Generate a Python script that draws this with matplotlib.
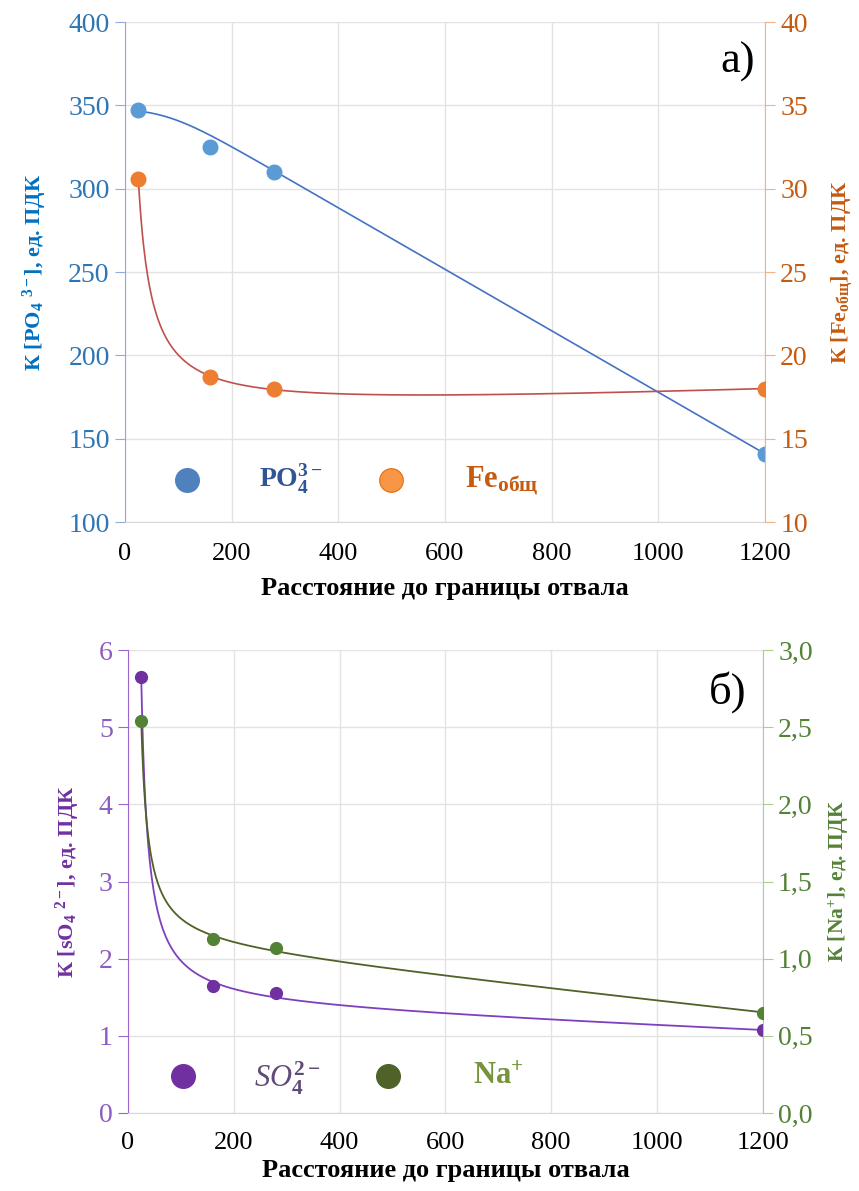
import numpy as np
import matplotlib
matplotlib.use("Agg")
import matplotlib.pyplot as plt

plt.rcParams['font.family'] = ['Liberation Serif', 'DejaVu Serif']
plt.rcParams['mathtext.fontset'] = 'custom'
plt.rcParams['mathtext.rm'] = 'Liberation Serif'
plt.rcParams['mathtext.it'] = 'Liberation Serif:italic'
plt.rcParams['mathtext.bf'] = 'Liberation Serif:bold'

# ---------- data ----------
dist = [25, 160, 280, 1200]
po4 = [347, 325, 310, 141]
fe = [30.6, 18.7, 18.0, 18.0]
so4 = [5.65, 1.65, 1.55, 1.07]
na = [2.54, 1.13, 1.07, 0.65]

x_ticks = [0, 200, 400, 600, 800, 1000, 1200]
po4_ticks = [100, 150, 200, 250, 300, 350, 400]
fe_ticks = [10, 15, 20, 25, 30, 35, 40]
so4_ticks = [0, 1, 2, 3, 4, 5, 6]
na_ticks = [0.0, 0.5, 1.0, 1.5, 2.0, 2.5, 3.0]


# trend lines (weighted least squares on fixed basis functions)
def lsq_fit(x, y, basis, w=None):
    x = np.asarray(x, float)
    y = np.asarray(y, float)
    w = np.ones_like(x) if w is None else np.sqrt(np.asarray(w, float))
    A = np.column_stack([f(x) for f in basis])
    coef, *_ = np.linalg.lstsq(A * w[:, None], y * w, rcond=None)
    return lambda t: sum(c * f(t) for c, f in zip(coef, basis))


def hyper_fit(x, y, x0):
    return lsq_fit(x, y, [np.ones_like, lambda t: 1.0 / (t - x0), lambda t: t])


def knee_fit(x, y, x0, s, w):
    return lsq_fit(x, y, [np.ones_like, lambda t: s * np.log1p(np.exp((t - x0) / s))], w)


xs = np.linspace(dist[0], dist[-1], 600)
po4_fit = knee_fit(dist, po4, 75, 40, [20, 1, 1, 20])
fe_fit = hyper_fit(dist, fe, 0)
so4_fit = hyper_fit(dist, so4, 12)
na_fit = hyper_fit(dist, na, 12)

fig = plt.figure(figsize=(8.59, 11.91), dpi=100)

YT_FS = 20
XT_FS = 19
LAB_FS = 16
XLAB_FS = 19


def style_axes(ax, ax2, lcol, lspine, rcol, rspine):
    ax.set_xlim(0, 1200)
    ax.set_xticks(x_ticks)
    ax.tick_params(axis='x', length=0, labelsize=XT_FS, pad=15, colors='black')
    ax.tick_params(axis='y', length=7, labelsize=YT_FS, colors=lspine, labelcolor=lcol, pad=4)
    ax2.tick_params(axis='y', length=7, labelsize=YT_FS, colors=rspine, labelcolor=rcol, pad=4)
    ax.grid(True, color='#e3e3e3', linewidth=1)
    ax.set_axisbelow(True)
    for s in ['top', 'right']:
        ax.spines[s].set_visible(False)
    for s in ['top', 'left', 'bottom']:
        ax2.spines[s].set_visible(False)
    ax.spines['left'].set_color(lspine)
    ax.spines['bottom'].set_color('#d9d9d9')
    ax2.spines['right'].set_color(rspine)


# ================== a) ==================
ax1 = fig.add_axes([0.1455, 0.5617, 0.745, 0.4198])
ax1r = ax1.twinx()
style_axes(ax1, ax1r, '#2E75B6', '#8FAADC', '#C55A11', '#F4B183')
ax1.set_ylim(100, 400)
ax1.set_yticks(po4_ticks)
ax1r.set_ylim(10, 40)
ax1r.set_yticks(fe_ticks)

ax1.plot(xs, po4_fit(xs), color='#4472C4', linewidth=1.2, zorder=3)
ax1.plot(dist, po4, 'o', color='#5B9BD5', markersize=10.5, zorder=4)
ax1r.plot(xs, fe_fit(xs), color='#C0504D', linewidth=1.2, zorder=3)
ax1r.plot(dist, fe, 'o', color='#ED7D31', markersize=10.5, zorder=4)

ax1.set_ylabel(r'К [PO$_\mathbf{4}$ $^\mathbf{3-}$], ед. ПДК', fontsize=LAB_FS,
               fontweight='bold', color='#0070C0', labelpad=14)
ax1r.set_ylabel(r'К [Fe$_\mathbf{общ}$], ед. ПДК', fontsize=LAB_FS,
                fontweight='bold', color='#C55A11', labelpad=16)
ax1.set_xlabel('Расстояние до границы отвала', fontsize=XLAB_FS, fontweight='bold', labelpad=9)

ax1.text(0.985, 0.96, 'а)', transform=ax1.transAxes, fontsize=32, ha='right', va='top')

# legend
ax1.plot([0.097], [0.085], 'o', transform=ax1.transAxes, color='#4F81BD',
         markersize=17, clip_on=False)
ax1.text(0.21, 0.085, r'$\mathbf{PO_4^{3-}}$', transform=ax1.transAxes, fontsize=20,
         color='#2F5597', va='center')
ax1.plot([0.416], [0.085], 'o', transform=ax1.transAxes, color='#F79646',
         markersize=17, markeredgecolor='#E46C0A', markeredgewidth=0.8, clip_on=False)
ax1.text(0.532, 0.07, r'Fe$_\mathbf{общ}$', transform=ax1.transAxes, fontsize=22,
         fontweight='bold', color='#C55A11', va='baseline')

# ================== б) ==================
ax2 = fig.add_axes([0.149, 0.0655, 0.739, 0.3887])
ax2r = ax2.twinx()
style_axes(ax2, ax2r, '#8E5CC0', '#9966CC', '#548235', '#A9D18E')
ax2.set_ylim(0, 6)
ax2.set_yticks(so4_ticks)
ax2r.set_ylim(0, 3)
ax2r.set_yticks(na_ticks)
ax2r.set_yticklabels([f'{v:.1f}'.replace('.', ',') for v in na_ticks])
ax2.tick_params(axis='x', pad=14)

ax2.plot(xs, so4_fit(xs), color='#7F3FBF', linewidth=1.3, zorder=3)
ax2.plot(dist, so4, 'o', color='#7030A0', markersize=8.5, zorder=4)
ax2r.plot(xs, na_fit(xs), color='#4F6228', linewidth=1.3, zorder=3)
ax2r.plot(dist, na, 'o', color='#548235', markersize=8.5, zorder=4)

ax2.set_ylabel(r'К [sO$_\mathbf{4}$ $^\mathbf{2-}$], ед. ПДК', fontsize=LAB_FS,
               fontweight='bold', color='#7030A0', labelpad=12)
ax2r.set_ylabel(r'К [Na$^\mathbf{+}$], ед. ПДК', fontsize=LAB_FS - 0.5,
                fontweight='bold', color='#548235', labelpad=10)
ax2.set_xlabel('Расстояние до границы отвала', fontsize=XLAB_FS, fontweight='bold', labelpad=3)

ax2.text(0.975, 0.955, 'б)', transform=ax2.transAxes, fontsize=32, ha='right', va='top')

ax2.plot([0.087], [0.08], 'o', transform=ax2.transAxes, color='#7030A0',
         markersize=17, clip_on=False)
ax2.text(0.198, 0.075, r'$\mathbf{\mathit{SO}_4^{2-}}$', transform=ax2.transAxes, fontsize=22,
         color='#604A7B', va='center')
ax2.plot([0.41], [0.08], 'o', transform=ax2.transAxes, color='#4F6228',
         markersize=17, clip_on=False)
ax2.text(0.543, 0.078, r'Na$^\mathbf{+}$', transform=ax2.transAxes, fontsize=22,
         fontweight='bold', color='#77933C', va='center')

fig.savefig('out.png', dpi=100)
